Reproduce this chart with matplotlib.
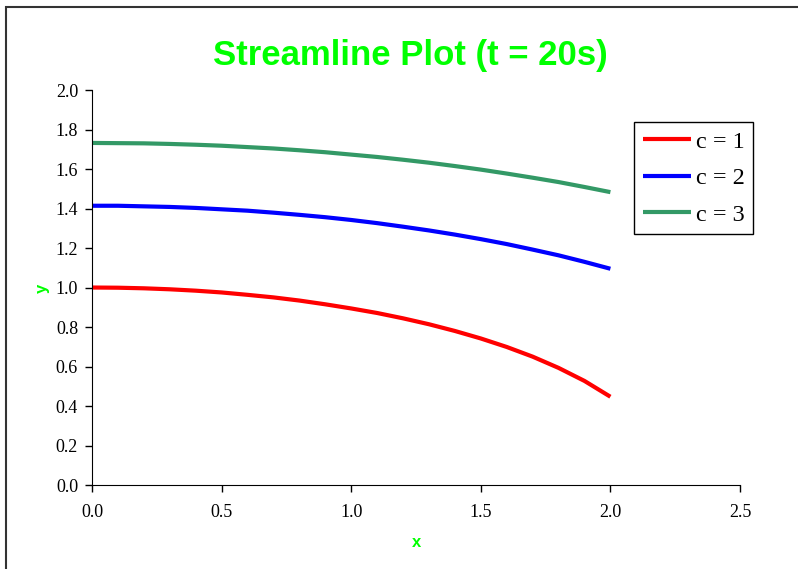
import numpy as np
import matplotlib
matplotlib.use("Agg")
import matplotlib.pyplot as plt
from matplotlib.patches import Rectangle

# streamline samples, x step 0.1 from 0 to 2
x = [0.0, 0.1, 0.2, 0.3, 0.4, 0.5, 0.6, 0.7, 0.8, 0.9, 1.0,
     1.1, 1.2, 1.3, 1.4, 1.5, 1.6, 1.7, 1.8, 1.9, 2.0]
y_c1 = [1.000, 0.999, 0.996, 0.991, 0.984, 0.975, 0.963, 0.950, 0.934, 0.915, 0.894,
        0.871, 0.844, 0.814, 0.780, 0.742, 0.699, 0.650, 0.593, 0.527, 0.447]
y_c2 = [1.414, 1.414, 1.411, 1.408, 1.403, 1.396, 1.389, 1.379, 1.368, 1.356, 1.342,
        1.326, 1.308, 1.289, 1.268, 1.245, 1.220, 1.192, 1.163, 1.130, 1.095]
y_c3 = [1.732, 1.731, 1.730, 1.727, 1.723, 1.718, 1.711, 1.704, 1.695, 1.685, 1.673,
        1.661, 1.647, 1.632, 1.615, 1.597, 1.577, 1.556, 1.534, 1.509, 1.483]
labels = ["c = 1", "c = 2", "c = 3"]
colors = ["#FF0000", "#0000FF", "#339966"]

fig = plt.figure(figsize=(7.98, 5.69), dpi=100)
ax = fig.add_axes([0.1153, 0.1476, 0.812, 0.6942])

for yy, lab, col in zip([y_c1, y_c2, y_c3], labels, colors):
    ax.plot(x, yy, color=col, lw=3, label=lab, solid_capstyle="butt")

ax.set_xlim(0, 2.5)
ax.set_ylim(0, 2.0)
ax.set_xticks(np.arange(0, 2.51, 0.5))
ax.set_yticks(np.arange(0, 2.01, 0.2))
ax.xaxis.set_major_formatter(matplotlib.ticker.FormatStrFormatter("%.1f"))
ax.yaxis.set_major_formatter(matplotlib.ticker.FormatStrFormatter("%.1f"))
for lbl in ax.get_xticklabels() + ax.get_yticklabels():
    lbl.set_fontfamily("Liberation Serif")
    lbl.set_fontsize(13)
ax.tick_params(direction="out", length=5, width=1, pad=5)
ax.tick_params(axis="x", pad=9)
ax.spines["top"].set_visible(False)
ax.spines["right"].set_visible(False)

fig.text(0.514, 0.9016, "Streamline Plot (t = 20s)", ha="center", va="center",
         color="#00FF00", fontsize=25, fontweight="bold", family="Liberation Sans")
fig.text(0.522, 0.047, "x", ha="center", va="center", color="#00FF00",
         fontsize=12, fontweight="bold", family="Liberation Sans")
fig.text(0.053, 0.494, "y", ha="center", va="center", color="#00FF00", rotation=90,
         fontsize=12, fontweight="bold", family="Liberation Sans")

leg = ax.legend(loc="upper left", bbox_to_anchor=(634 / 798, 1 - 122 / 569),
                bbox_transform=fig.transFigure, borderaxespad=0,
                prop={"family": "Liberation Serif", "size": 17.5},
                fancybox=False, edgecolor="black", framealpha=1,
                handlelength=2.0, handletextpad=0.2, labelspacing=0.6,
                borderpad=0.35)
leg.get_frame().set_linewidth(1)

# outer chart border (left and top visible)
fig.add_artist(Rectangle((6 / 798, -0.05), 1.2, 1 - 7 / 569 + 0.05,
                         transform=fig.transFigure, fill=False,
                         edgecolor="#333333", lw=1.5))

fig.savefig("out.png", dpi=100)
